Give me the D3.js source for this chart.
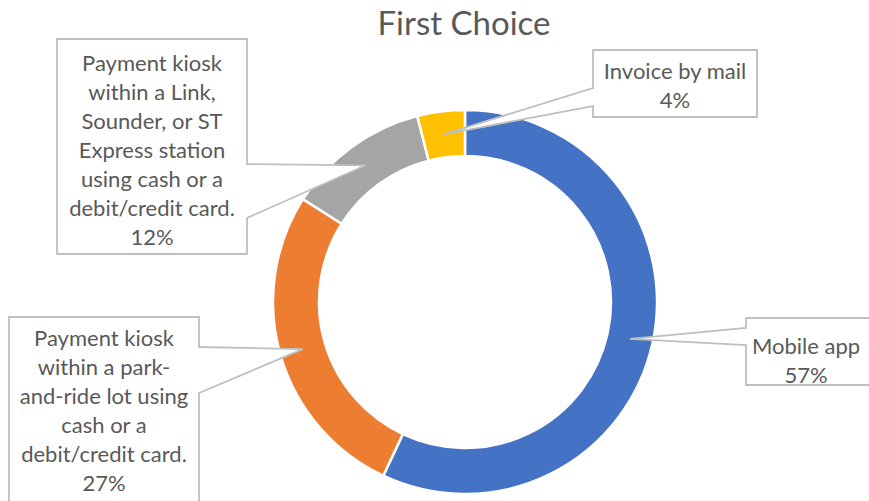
<!DOCTYPE html>
<html>
<head>
<meta charset="utf-8">
<script src="https://cdn.jsdelivr.net/npm/d3@7"></script>
<style>
  html, body { margin: 0; padding: 0; background: #fff; }
  svg { display: block; }
  text { font-family: Lato, "Open Sans", sans-serif; fill: #595959; }
</style>
</head>
<body>
<svg id="chart" width="869" height="501"></svg>
<script>
// ---- data ----
const title = "First Choice";
const categories = [
  "Mobile app",
  "Payment kiosk within a park-and-ride lot using cash or a debit/credit card.",
  "Payment kiosk within a Link, Sounder, or ST Express station using cash or a debit/credit card.",
  "Invoice by mail"
];
const values = [57, 27, 12, 4];
const colors = ["#4472C4", "#ED7D31", "#A5A5A5", "#FFC000"];
const labelLines = [
  ["Mobile app", "57%"],
  ["Payment kiosk", "within a park-", "and-ride lot using", "cash or a", "debit/credit card.", "27%"],
  ["Payment kiosk", "within a Link,", "Sounder, or ST", "Express station", "using cash or a", "debit/credit card.", "12%"],
  ["Invoice by mail", "4%"]
];

// ---- layout (positions only) ----
const cx = 465, cy = 302, outerR = 192, innerR = 146;
const boxes = [
  {x0: 746, y0: 318, x1: 885, y1: 385, side: "left",  w0: 328, w1: 345, ty: 345, tx: 806},
  {x0: 9,   y0: 317, x1: 199, y1: 515, side: "right", w0: 347, w1: 393, ty: 337, tx: 104},
  {x0: 57,  y0: 39,  x1: 247, y1: 254, side: "right", w0: 164, w1: 218, ty: 62,  tx: 152},
  {x0: 593, y0: 50,  x1: 757, y1: 117, side: "left",  w0: 88,  w1: 106, ty: 70,  tx: 675}
];
const lineH = 29;

const svg = d3.select("#chart");

svg.append("text")
  .attr("x", 464).attr("y", 22)
  .attr("text-anchor", "middle")
  .attr("dominant-baseline", "central")
  .style("font-size", "33px")
  .text(title);

const pie = d3.pie().sort(null).value(d => d)(values);
const arc = d3.arc().innerRadius(innerR).outerRadius(outerR);

const g = svg.append("g").attr("transform", `translate(${cx},${cy})`);
g.selectAll("path.slice").data(pie).join("path")
  .attr("class", "slice")
  .attr("d", arc)
  .attr("fill", (d, i) => colors[i])
  .attr("stroke", "#fff")
  .attr("stroke-width", 2.5);

pie.forEach((d, i) => {
  const b = boxes[i];
  const c = arc.centroid(d);
  const tip = [cx + c[0], cy + c[1]];
  let p;
  if (b.side === "left") {
    p = [[b.x0, b.y0], [b.x1, b.y0], [b.x1, b.y1], [b.x0, b.y1], [b.x0, b.w1], tip, [b.x0, b.w0]];
  } else {
    p = [[b.x0, b.y0], [b.x1, b.y0], [b.x1, b.w0], tip, [b.x1, b.w1], [b.x1, b.y1], [b.x0, b.y1]];
  }
  svg.append("path")
    .attr("d", d3.line()(p) + "Z")
    .attr("fill", "#fff")
    .attr("stroke", "#BFBFBF")
    .attr("stroke-width", 1.8)
    .attr("stroke-linejoin", "miter");
  const t = svg.append("text")
    .attr("text-anchor", "middle")
    .style("font-size", "22px");
  labelLines[i].forEach((ln, k) => {
    t.append("tspan")
      .attr("x", b.tx)
      .attr("y", b.ty + k * lineH)
      .attr("dominant-baseline", "central")
      .text(ln);
  });
});
</script>
</body>
</html>
